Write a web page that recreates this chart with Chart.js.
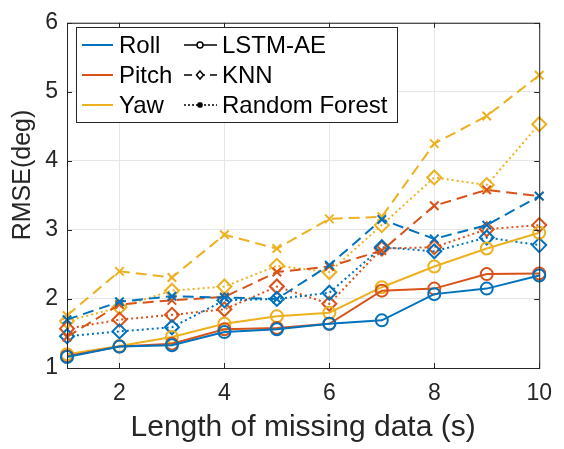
<!DOCTYPE html>
<html>
<head>
<meta charset="utf-8">
<script src="https://cdn.jsdelivr.net/npm/chart.js@4.4.1/dist/chart.umd.min.js"></script>
<style>
  html, body { margin: 0; padding: 0; background: #fff; }
  #wrap { width: 564px; height: 449px; }
</style>
</head>
<body>
<div id="wrap"><canvas id="thisChart" width="564" height="449"></canvas></div>
<script>
// lengths of missing data (s)
const lengths = [1, 2, 3, 4, 5, 6, 7, 8, 9, 10]
const xTicks = [2, 4, 6, 8, 10]

// LSTM-AE (solid, circles)
const rollLstm  = [1.16, 1.31, 1.33, 1.52, 1.56, 1.64, 1.69, 2.07, 2.15, 2.34]
const pitchLstm = [1.17, 1.31, 1.35, 1.56, 1.58, 1.64, 2.12, 2.15, 2.36, 2.37]
const yawLstm   = [1.20, 1.32, 1.45, 1.64, 1.75, 1.80, 2.17, 2.47, 2.73, 2.96]
// KNN (dashed)
const rollKnn  = [1.70, 1.96, 2.04, 2.02, 2.00, 2.49, 3.15, 2.87, 3.07, 3.49]
const pitchKnn = [1.45, 1.92, 1.98, 2.03, 2.39, 2.47, 2.70, 3.35, 3.58, 3.49]
const yawKnn   = [1.76, 2.40, 2.31, 2.93, 2.73, 3.16, 3.19, 4.25, 4.65, 5.24]
// Random Forest (dotted)
const rollRf  = [1.46, 1.53, 1.59, 1.98, 2.00, 2.09, 2.75, 2.69, 2.89, 2.78]
const pitchRf = [1.57, 1.70, 1.77, 1.85, 2.18, 1.93, 2.73, 2.75, 3.01, 3.07]
const yawRf   = [1.68, 1.88, 2.12, 2.18, 2.48, 2.39, 3.07, 3.76, 3.65, 4.53]

const blue = "#0072BD", orange = "#D95319", yellow = "#EDB120"
const ink = "#262626"
const FONT = "'Liberation Sans', Arial, Helvetica, sans-serif"

function series(label, values, color, style) {
  let dash = [], pt = "circle", r = 6
  if (style == "dash") { dash = [11, 6]; pt = "crossRot"; r = 6 }
  if (style == "dot") { dash = [2, 3]; pt = "rectRot"; r = 7 }
  return {
    label: label,
    data: values.map((v, i) => ({ x: lengths[i], y: v })),
    borderColor: color,
    borderWidth: 2,
    borderDash: dash,
    pointStyle: pt,
    pointRadius: r,
    pointBorderWidth: 2,
    pointBorderColor: color,
    pointBackgroundColor: "rgba(0,0,0,0)",
    tension: 0,
    clip: false,
  }
}

// axes box, inner tick marks, y label and legend
const decor = {
  id: "decor",
  afterDraw(chart) {
    const ctx = chart.ctx
    const a = chart.chartArea
    const xs = chart.scales.x, ys = chart.scales.y
    ctx.save()
    ctx.strokeStyle = ink
    ctx.lineWidth = 1
    ctx.strokeRect(a.left + 0.5, a.top + 0.5, a.right - a.left, a.bottom - a.top)
    ctx.beginPath()
    xTicks.forEach(v => {
      const px = Math.round(xs.getPixelForValue(v)) + 0.5
      ctx.moveTo(px, a.bottom); ctx.lineTo(px, a.bottom - 5)
      ctx.moveTo(px, a.top); ctx.lineTo(px, a.top + 5)
    })
    for (let v = 1; v <= 6; v++) {
      const py = Math.round(ys.getPixelForValue(v)) + 0.5
      ctx.moveTo(a.left, py); ctx.lineTo(a.left + 5, py)
      ctx.moveTo(a.right, py); ctx.lineTo(a.right - 5, py)
    }
    ctx.stroke()

    // y axis label
    ctx.save()
    ctx.translate(23, 175)
    ctx.rotate(-Math.PI / 2)
    ctx.fillStyle = ink
    ctx.font = "25px " + FONT
    ctx.textAlign = "center"
    ctx.textBaseline = "middle"
    ctx.fillText("RMSE(deg)", 0, 0)
    ctx.restore()

    // legend
    const bx = 76.5, by = 27.5, bw = 321, bh = 95
    ctx.fillStyle = "#fff"
    ctx.fillRect(bx, by, bw, bh)
    ctx.strokeStyle = ink
    ctx.strokeRect(bx, by, bw, bh)
    ctx.font = "24px " + FONT
    ctx.textBaseline = "middle"
    ctx.textAlign = "left"
    const rows = [45, 75, 105]
    const colours = [["Roll", blue], ["Pitch", orange], ["Yaw", yellow]]
    colours.forEach((c, i) => {
      ctx.strokeStyle = c[1]
      ctx.lineWidth = 2
      ctx.setLineDash([])
      ctx.beginPath(); ctx.moveTo(82, rows[i]); ctx.lineTo(113, rows[i]); ctx.stroke()
      ctx.fillStyle = "#000"
      ctx.fillText(c[0], 119, rows[i] + 1)
    })
    const methods = [["LSTM-AE", []], ["KNN", [8, 5]], ["Random Forest", [2, 2]]]
    methods.forEach((m, i) => {
      const y = rows[i], cx = 200
      ctx.strokeStyle = "#000"
      ctx.lineWidth = 1.5
      ctx.setLineDash(m[1])
      ctx.beginPath(); ctx.moveTo(184, y); ctx.lineTo(217, y); ctx.stroke()
      ctx.setLineDash([])
      ctx.beginPath()
      if (i == 0) {
        ctx.fillStyle = "#fff"
        ctx.arc(cx, y, 3, 0, Math.PI * 2)
        ctx.fill(); ctx.stroke()
      } else if (i == 1) {
        ctx.fillStyle = "#fff"
        ctx.moveTo(cx, y - 4); ctx.lineTo(cx + 3.5, y); ctx.lineTo(cx, y + 4); ctx.lineTo(cx - 3.5, y); ctx.closePath()
        ctx.fill(); ctx.stroke()
      } else {
        ctx.moveTo(cx - 3, y); ctx.lineTo(cx + 3, y)
        ctx.moveTo(cx, y - 3); ctx.lineTo(cx, y + 3)
        ctx.moveTo(cx - 2.2, y - 2.2); ctx.lineTo(cx + 2.2, y + 2.2)
        ctx.moveTo(cx - 2.2, y + 2.2); ctx.lineTo(cx + 2.2, y - 2.2)
        ctx.stroke()
      }
      ctx.fillStyle = "#000"
      ctx.fillText(m[0], 222, y + 1)
    })
    ctx.restore()
  }
}

const config = {
  type: "line",
  data: {
    datasets: [
      series("Roll LSTM-AE", rollLstm, blue, "solid"),
      series("Pitch LSTM-AE", pitchLstm, orange, "solid"),
      series("Yaw LSTM-AE", yawLstm, yellow, "solid"),
      series("Roll KNN", rollKnn, blue, "dash"),
      series("Pitch KNN", pitchKnn, orange, "dash"),
      series("Yaw KNN", yawKnn, yellow, "dash"),
      series("Roll Random Forest", rollRf, blue, "dot"),
      series("Pitch Random Forest", pitchRf, orange, "dot"),
      series("Yaw Random Forest", yawRf, yellow, "dot"),
    ],
  },
  options: {
    responsive: false,
    animation: false,
    devicePixelRatio: 1,
    layout: { padding: { top: 16, right: 17, left: 0, bottom: 0 } },
    plugins: { legend: { display: false }, tooltip: { enabled: false } },
    scales: {
      x: {
        type: "linear",
        min: 1,
        max: 10,
        afterBuildTicks: s => { s.ticks = xTicks.map(v => ({ value: v })) },
        afterFit: s => { s.height = 81 },
        grid: { color: "#e6e6e6", lineWidth: 1, drawTicks: false },
        border: { display: false },
        ticks: { color: ink, font: { family: FONT, size: 23 }, padding: 12, maxRotation: 0 },
        title: {
          display: true,
          text: "Length of missing data (s)",
          color: ink,
          font: { family: FONT, size: 30 },
          padding: { top: 0, bottom: 3 },
        },
      },
      y: {
        min: 1,
        max: 6,
        afterFit: s => { s.width = 67 },
        grid: { color: "#e6e6e6", lineWidth: 1, drawTicks: false },
        border: { display: false },
        ticks: { stepSize: 1, color: ink, font: { family: FONT, size: 23 }, padding: 9 },
      },
    },
  },
  plugins: [decor],
}

const lineChart = new Chart(document.getElementById("thisChart").getContext("2d"), config)
</script>
</body>
</html>
